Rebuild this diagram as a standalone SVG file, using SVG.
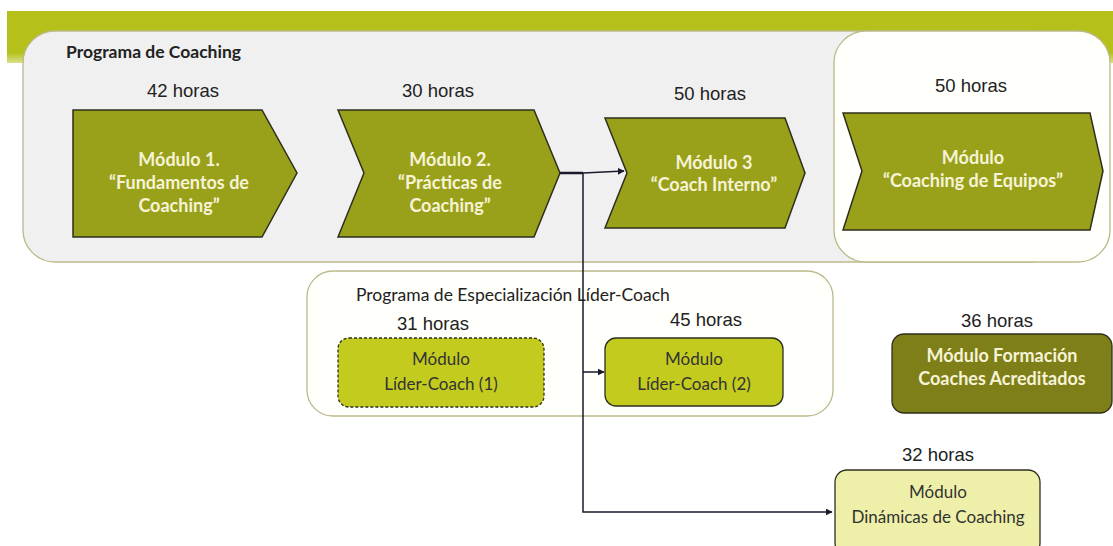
<svg xmlns="http://www.w3.org/2000/svg" width="1113" height="546" viewBox="0 0 1113 546">
<defs>
<linearGradient id="band" x1="0" y1="0" x2="0" y2="1">
<stop offset="0" stop-color="#b5c01a"/>
<stop offset="0.8" stop-color="#b5c01a"/>
<stop offset="1" stop-color="#d9e08a"/>
</linearGradient>
<marker id="arr" viewBox="0 0 10 10" refX="9" refY="5" markerWidth="7" markerHeight="7" markerUnits="userSpaceOnUse" orient="auto">
<path d="M0,0 L10,5 L0,10 z" fill="#1a1a2a"/>
</marker>
<style>
.panel{fill:#f0f0f0;stroke:#bdb98a;stroke-width:1.3}
.wpanel{fill:#fffffb;stroke:#bdb98a;stroke-width:1.3}
.chev{fill:#99a11b;stroke:#2e2e1e;stroke-width:1.5}
.hrs{font-family:"Liberation Sans",Arial,sans-serif;font-size:18.5px;fill:#222;text-anchor:middle}
.ct{font-family:Lato,"Open Sans",sans-serif;font-weight:bold;font-size:18px;fill:#f6f3d6;text-anchor:middle}
.dt{font-family:Lato,"Open Sans",sans-serif;font-size:17px;fill:#333;text-anchor:middle}
.lbl{font-family:Lato,"Open Sans",sans-serif;font-size:17.5px;fill:#222}
.conn{fill:none;stroke:#1a1a2a;stroke-width:1.5}
</style>
</defs>
<rect x="0" y="0" width="1113" height="546" fill="#ffffff"/>
<rect x="7" y="11" width="1106" height="52" fill="url(#band)"/>

<g id="programa-coaching">
<rect class="panel" x="23" y="31" width="1040" height="231" rx="32"/>
<text class="lbl" x="66" y="58" font-weight="bold" font-size="17px">Programa de Coaching</text>
</g>
<g id="panel-equipos">
<rect class="wpanel" x="834" y="31" width="276" height="231" rx="32"/>
</g>

<g id="modulo1">
<text class="hrs" x="183" y="97">42 horas</text>
<polygon class="chev" points="73,110 262,110 297,173 262,237 73,237"/>
<text class="ct" x="179" y="166">Módulo 1.</text>
<text class="ct" x="179" y="189">“Fundamentos de</text>
<text class="ct" x="179" y="212">Coaching”</text>
</g>
<g id="modulo2">
<text class="hrs" x="438" y="97">30 horas</text>
<polygon class="chev" points="338,110 534,110 560,173 534,237 338,237 364,173"/>
<text class="ct" x="450" y="166">Módulo 2.</text>
<text class="ct" x="450" y="189">“Prácticas de</text>
<text class="ct" x="450" y="212">Coaching”</text>
</g>
<g id="modulo3">
<text class="hrs" x="710" y="100">50 horas</text>
<polygon class="chev" points="605,118 785,118 805,173 785,228 605,228 627,173"/>
<text class="ct" x="714" y="169">Módulo 3</text>
<text class="ct" x="714" y="191">“Coach Interno”</text>
</g>
<g id="modulo-equipos">
<text class="hrs" x="971" y="92">50 horas</text>
<polygon class="chev" points="843,113 1090,113 1103,171 1090,230 843,230 862,171"/>
<text class="ct" x="973" y="164">Módulo</text>
<text class="ct" x="973" y="187">“Coaching de Equipos”</text>
</g>

<g id="programa-especializacion">
<rect class="wpanel" x="307" y="271" width="526" height="145" rx="26"/>
<text class="lbl" x="356" y="301">Programa de Especialización Líder-Coach</text>
</g>
<g id="lider1">
<text class="hrs" x="433" y="330">31 horas</text>
<rect x="338" y="338" width="206" height="69" rx="11" fill="#c3cb1f" stroke="#2e2e1e" stroke-width="1.3" stroke-dasharray="3,2"/>
<text class="dt" x="441" y="365">Módulo</text>
<text class="dt" x="441" y="390">Líder-Coach (1)</text>
</g>
<g id="lider2">
<text class="hrs" x="706" y="326">45 horas</text>
<rect x="605" y="338" width="178" height="68" rx="11" fill="#c3cb1f" stroke="#2e2e1e" stroke-width="1.3"/>
<text class="dt" x="694" y="365">Módulo</text>
<text class="dt" x="694" y="390">Líder-Coach (2)</text>
</g>
<g id="formacion">
<text class="hrs" x="997" y="327">36 horas</text>
<rect x="892" y="334" width="220" height="79" rx="12" fill="#7e7f18" stroke="#2e2e1e" stroke-width="1.3"/>
<text class="ct" x="1002" y="362">Módulo Formación</text>
<text class="ct" x="1002" y="385">Coaches Acreditados</text>
</g>
<g id="dinamicas">
<text class="hrs" x="938" y="461">32 horas</text>
<rect x="835" y="470" width="205" height="85" rx="12" fill="#eef0a9" stroke="#2e2e1e" stroke-width="1.3"/>
<text class="dt" x="938" y="498">Módulo</text>
<text class="dt" x="938" y="523">Dinámicas de Coaching</text>
</g>

<g id="connectors">
<path d="M560,173 L583,173" fill="none" stroke="#1a1a2a" stroke-width="2.5"/>
<path class="conn" d="M583,173 L624,171" marker-end="url(#arr)"/>
<path class="conn" d="M583,173 L583,512 L832,512" marker-end="url(#arr)"/>
<path class="conn" d="M583,372 L604,372" marker-end="url(#arr)" stroke="#555"/>
</g>
</svg>
